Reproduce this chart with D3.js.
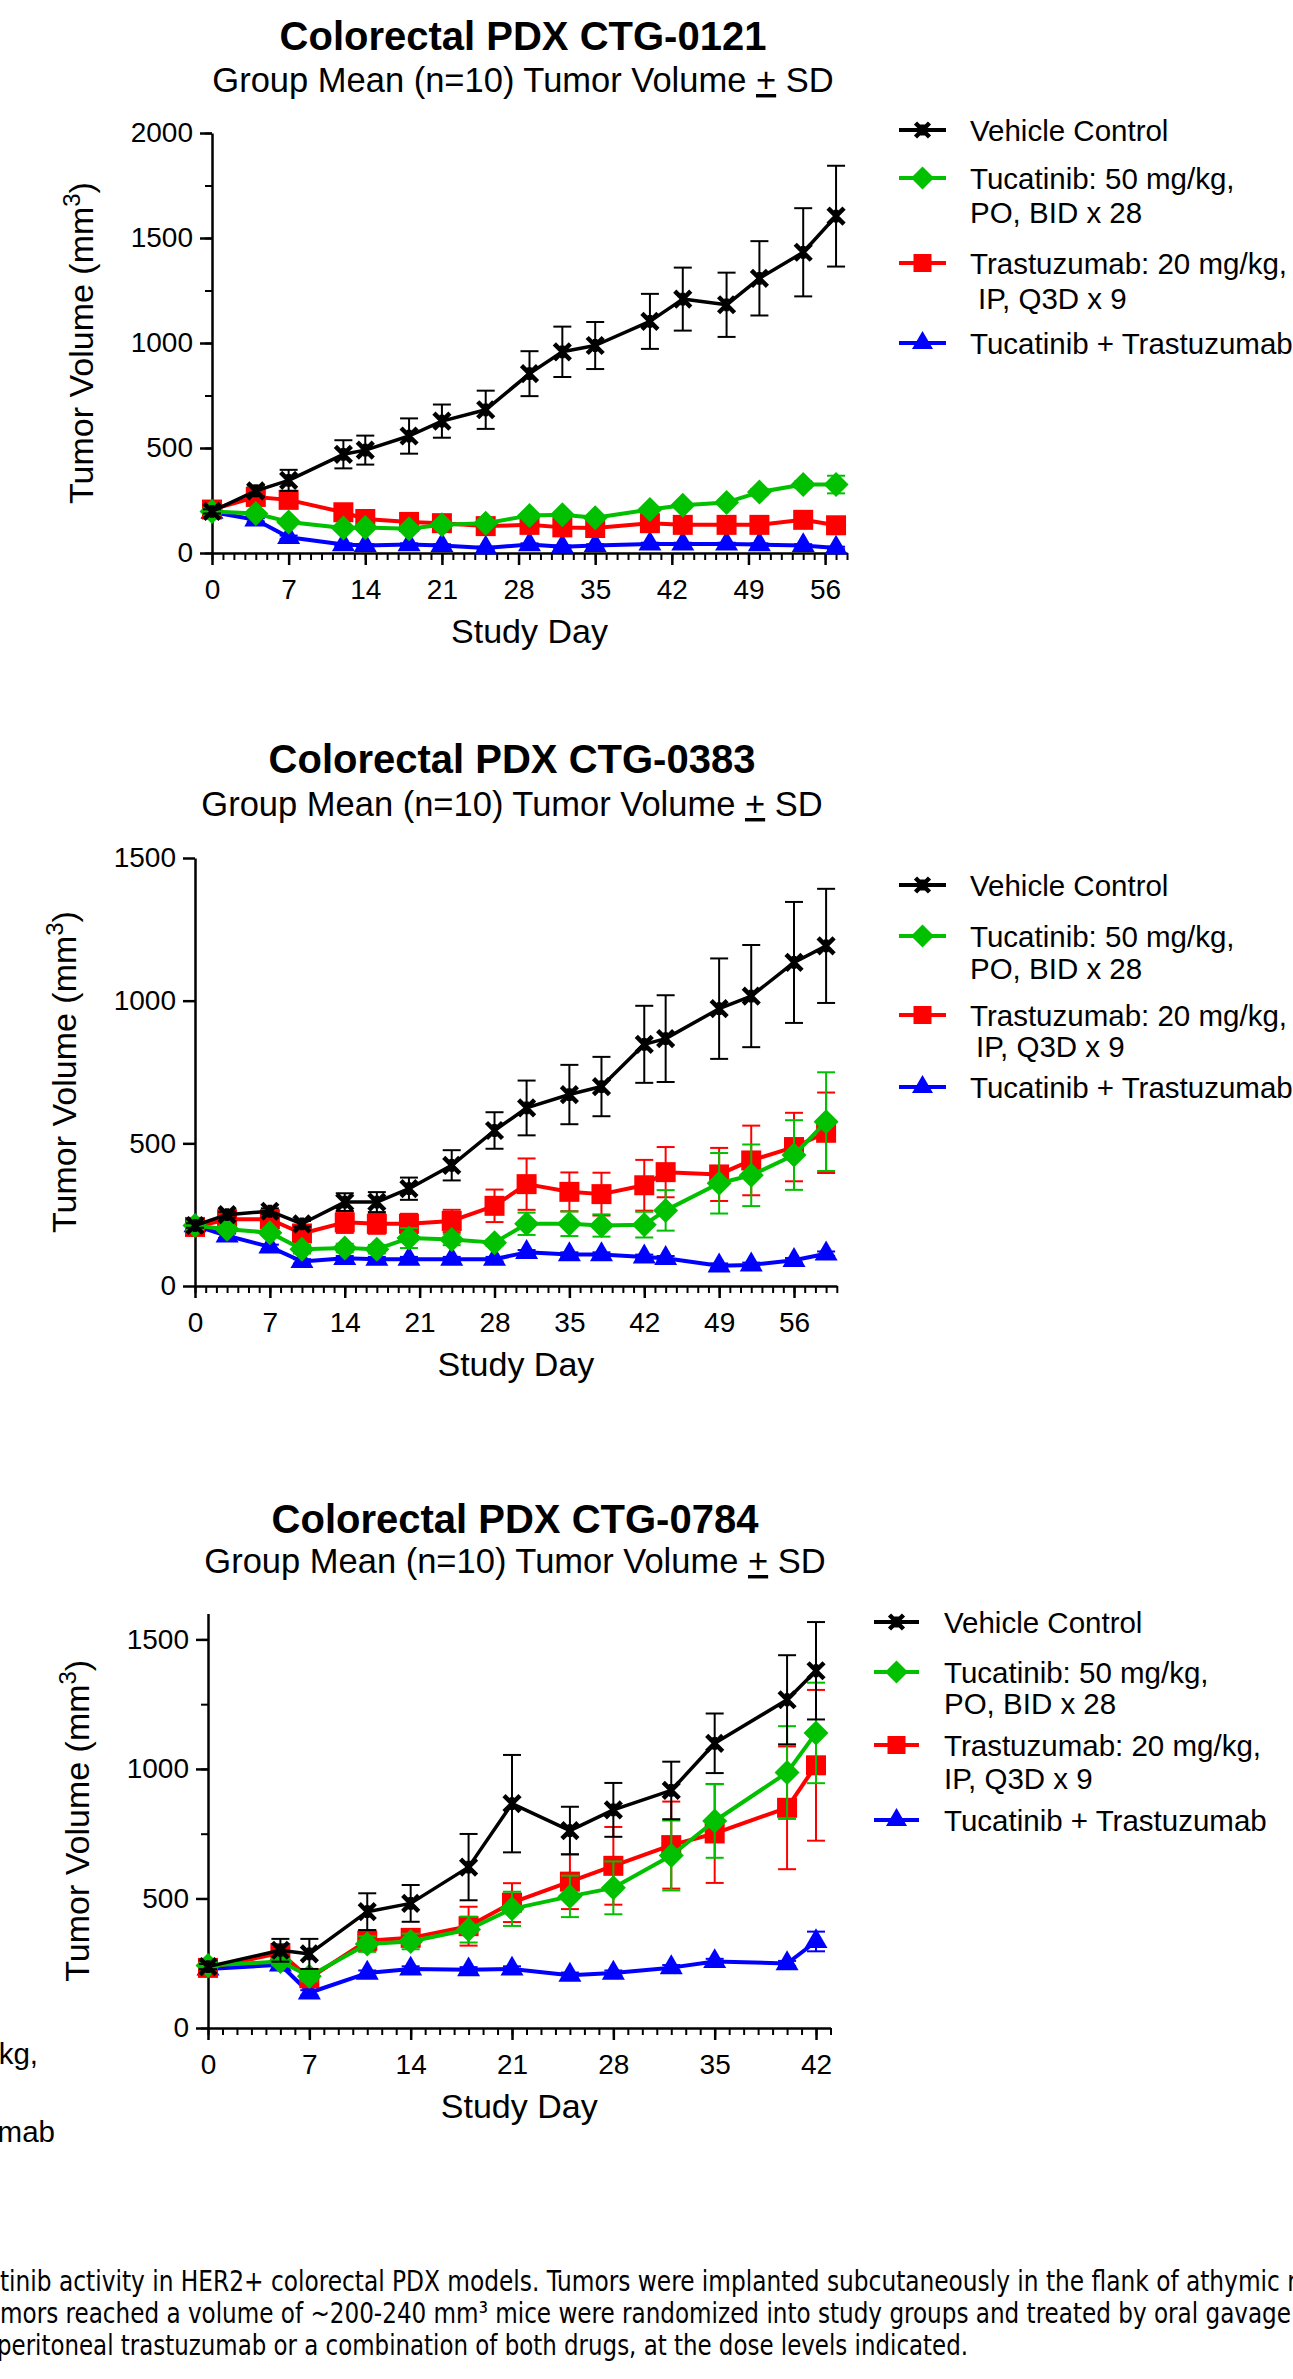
<!DOCTYPE html>
<html>
<head>
<meta charset="utf-8">
<script src="https://cdn.jsdelivr.net/npm/d3@7"></script>
<style>
  body { margin: 0; background: #fff; }
  svg { display: block; }
  text { font-family: "Liberation Sans", Arial, Helvetica, sans-serif; fill: #000; }
</style>
</head>
<body>
<svg id="fig" width="1293" height="2379"></svg>
<script>
// Tumor volume (mm3), group mean and SD.

var seriesNames = ['Vehicle Control', 'Tucatinib', 'Trastuzumab', 'Tucatinib + Trastuzumab'];
var legendLabels = [
    ['Vehicle Control'],
    ['Tucatinib: 50 mg/kg,', 'PO, BID x 28'],
    ['Trastuzumab: 20 mg/kg,', 'IP, Q3D x 9'],
    ['Tucatinib + Trastuzumab']
];

// CTG-0121
var days0121 = [0, 4, 7, 12, 14, 18, 21, 25, 29, 32, 35, 40, 43, 47, 50, 54, 57];
var vehicle0121 = [198, 296, 346, 470, 490, 557, 628, 682, 854, 958, 988, 1103, 1209, 1182, 1308, 1432, 1604];
var vehicle0121Sd = [10, 25, 50, 67, 69, 84, 79, 91, 107, 120, 112, 131, 150, 153, 177, 210, 240];
var tucatinib0121 = [198, 188, 148, 119, 122, 115, 134, 142, 178, 182, 168, 207, 227, 241, 290, 326, 326];
var tucatinib0121Sd = [10, 10, 10, 10, 10, 10, 10, 10, 10, 10, 10, 10, 10, 10, 15, 15, 42];
var trastuzumab0121 = [207, 267, 253, 194, 162, 148, 142, 128, 134, 122, 119, 142, 134, 134, 134, 158, 132];
var trastuzumab0121Sd = [10, 20, 15, 10, 10, 10, 10, 10, 10, 10, 10, 10, 10, 10, 10, 10, 10];
var combo0121 = [195, 158, 75, 40, 36, 40, 36, 24, 40, 30, 36, 43, 43, 43, 40, 36, 24];
var combo0121Sd = [8, 8, 8, 6, 6, 6, 6, 6, 6, 6, 6, 6, 6, 6, 6, 6, 6];

// CTG-0383
var days0383 = [0, 3, 7, 10, 14, 17, 20, 24, 28, 31, 35, 38, 42, 44, 49, 52, 56, 59];
var vehicle0383 = [212, 250, 262, 218, 294, 294, 341, 423, 545, 624, 671, 699, 847, 867, 972, 1016, 1134, 1192];
var vehicle0383Sd = [8, 10, 10, 10, 31, 35, 39, 53, 64, 96, 104, 104, 135, 152, 176, 179, 212, 200];
var tucatinib0383 = [212, 199, 187, 129, 133, 129, 168, 163, 152, 218, 218, 212, 215, 265, 360, 388, 459, 576];
var tucatinib0383Sd = [15, 10, 10, 15, 15, 15, 35, 20, 10, 39, 43, 39, 45, 71, 106, 108, 122, 173];
var trastuzumab0383 = [207, 234, 234, 184, 223, 218, 218, 228, 281, 357, 330, 322, 353, 399, 391, 440, 487, 537];
var trastuzumab0383Sd = [15, 15, 15, 15, 37, 35, 35, 39, 57, 90, 68, 75, 89, 88, 93, 122, 120, 141];
var combo0383 = [212, 176, 137, 86, 97, 94, 94, 94, 94, 118, 110, 110, 102, 97, 71, 74, 90, 113];
var combo0383Sd = [8, 8, 8, 8, 8, 8, 8, 8, 8, 8, 8, 8, 8, 8, 8, 8, 8, 8];

// CTG-0784
var days0784 = [0, 5, 7, 11, 14, 18, 21, 25, 28, 32, 35, 40, 42];
var vehicle0784 = [237, 300, 286, 449, 481, 621, 866, 762, 842, 917, 1099, 1267, 1379];
var vehicle0784Sd = [10, 44, 58, 71, 71, 128, 188, 92, 104, 111, 115, 172, 188];
var tucatinib0784 = [241, 257, 200, 324, 334, 380, 460, 508, 541, 666, 799, 986, 1139];
var tucatinib0784Sd = [10, 15, 20, 30, 30, 50, 66, 80, 102, 135, 142, 179, 194];
var trastuzumab0784 = [232, 289, 192, 337, 348, 393, 484, 565, 626, 706, 751, 850, 1014];
var trastuzumab0784Sd = [15, 20, 20, 40, 28, 75, 75, 106, 150, 168, 191, 237, 291];
var combo0784 = [228, 244, 136, 212, 228, 225, 228, 204, 212, 233, 257, 249, 334];
var combo0784Sd = [10, 10, 10, 10, 10, 10, 10, 10, 10, 10, 10, 10, 38];

// tick labels
var xTicks0121 = [0, 7, 14, 21, 28, 35, 42, 49, 56];
var yTicks0121 = [0, 500, 1000, 1500, 2000];
var xTicks0383 = [0, 7, 14, 21, 28, 35, 42, 49, 56];
var yTicks0383 = [0, 500, 1000, 1500];
var xTicks0784 = [0, 7, 14, 21, 28, 35, 42];
var yTicks0784 = [0, 500, 1000, 1500];

var colors = ['#000000', '#00c000', '#ff0000', '#0000ff'];
var symbols = ['star', 'diamond', 'square', 'triangle'];

var svg = d3.select('#fig');
svg.append('rect').attr('width', 1293).attr('height', 2379).attr('fill', '#fff');

function symbolPath(kind, s) {
    if (kind === 'square') return d3.symbol(d3.symbolSquare, s * s)();
    if (kind === 'diamond') return 'M0,' + (-s / 2) + 'L' + (s / 2) + ',0L0,' + (s / 2) + 'L' + (-s / 2) + ',0Z';
    if (kind === 'triangle') return d3.symbol(d3.symbolTriangle, Math.sqrt(3) / 4 * s * s)();
    var h = s / 2;
    return 'M' + (-h) + ',' + (-h) + 'L' + h + ',' + h + 'M' + h + ',' + (-h) + 'L' + (-h) + ',' + h +
        'M0,' + (-h * 0.8) + 'L0,' + (h * 0.8);
}

function drawMarker(g, kind, color, cx, cy, s) {
    var p = g.append('path')
        .attr('d', symbolPath(kind, s))
        .attr('transform', 'translate(' + cx + ',' + cy + ')');
    if (kind === 'star') {
        p.attr('fill', 'none').attr('stroke', color).attr('stroke-width', 4.5);
    } else {
        p.attr('fill', color);
    }
}

var markerSize = { star: 16, diamond: 25, square: 20, triangle: 23 };

function drawPanel(p) {
    var g = svg.append('g');
    var x = d3.scaleLinear().domain([0, p.xMax]).range([p.left, p.right]);
    var y = d3.scaleLinear().domain([0, p.yMax]).range([p.bottom, p.top]);

    // titles
    g.append('text').attr('x', p.titleX).attr('y', p.titleY)
        .attr('text-anchor', 'middle').attr('font-size', 40).attr('font-weight', 'bold')
        .text(p.title);
    var sub = g.append('text').attr('x', p.titleX).attr('y', p.subY)
        .attr('text-anchor', 'middle').attr('font-size', 34.5);
    sub.append('tspan').text('Group Mean (n=10) Tumor Volume ');
    sub.append('tspan').style('text-decoration', 'underline').text('+');
    sub.append('tspan').text(' SD');

    // x axis: minor day ticks then major ticks
    g.append('g').attr('transform', 'translate(0,' + p.bottom + ')')
        .call(d3.axisBottom(x).tickValues(d3.range(0, p.xMax + 1)).tickSize(7).tickFormat('').tickSizeOuter(0))
        .call(function(a) {
            a.select('.domain').remove();
            a.selectAll('line').attr('stroke-width', 2);
        });
    g.append('g').attr('transform', 'translate(0,' + p.bottom + ')')
        .call(d3.axisBottom(x).tickValues(p.xTicks).tickSize(12).tickPadding(14).tickSizeOuter(0))
        .call(function(a) {
            a.attr('font-family', null).attr('font-size', 28);
            a.select('.domain').attr('stroke-width', 2.5);
            a.selectAll('line').attr('stroke-width', 2.5);
            a.selectAll('text').attr('fill', '#000');
        });

    // y axis
    if (p.yMinor) {
        g.append('g').attr('transform', 'translate(' + p.left + ',0)')
            .call(d3.axisLeft(y).tickValues(d3.range(0, p.yMax + 1, p.yMinor)).tickSize(7).tickFormat('').tickSizeOuter(0))
            .call(function(a) {
                a.select('.domain').remove();
                a.selectAll('line').attr('stroke-width', 2);
            });
    }
    g.append('g').attr('transform', 'translate(' + p.left + ',0)')
        .call(d3.axisLeft(y).tickValues(p.yTicks).tickSize(12).tickPadding(7).tickSizeOuter(0).tickFormat(d3.format('d')))
        .call(function(a) {
            a.attr('font-family', null).attr('font-size', 28);
            a.select('.domain').attr('stroke-width', 2.5);
            a.selectAll('line').attr('stroke-width', 2.5);
            a.selectAll('text').attr('fill', '#000');
        });

    // axis titles
    g.append('text').attr('x', (p.left + p.right) / 2).attr('y', p.bottom + 90)
        .attr('text-anchor', 'middle').attr('font-size', 34).text('Study Day');
    var yl = g.append('text')
        .attr('transform', 'translate(' + (p.left - 119) + ',' + ((p.top + p.bottom) / 2) + ') rotate(-90)')
        .attr('text-anchor', 'middle').attr('font-size', 34);
    yl.append('tspan').text('Tumor Volume (mm');
    yl.append('tspan').attr('font-size', 24).attr('dy', -13).text('3');
    yl.append('tspan').attr('dy', 13).text(')');

    // series: combination first so vehicle ends on top
    var line = d3.line().x(function(d) { return x(d[0]); }).y(function(d) { return y(d[1]); });
    [3, 2, 1, 0].forEach(function(i) {
        var vals = p.series[i], sds = p.sds[i], col = colors[i];
        var pts = p.days.map(function(d, k) { return [d, vals[k], sds[k]]; });
        var sg = g.append('g');
        pts.forEach(function(d) {
            var cx = x(d[0]), lo = y(d[1] - d[2]), hi = y(d[1] + d[2]);
            sg.append('line').attr('x1', cx).attr('x2', cx).attr('y1', lo).attr('y2', hi)
                .attr('stroke', col).attr('stroke-width', 2);
            [lo, hi].forEach(function(yy) {
                sg.append('line').attr('x1', cx - 9).attr('x2', cx + 9).attr('y1', yy).attr('y2', yy)
                    .attr('stroke', col).attr('stroke-width', 2);
            });
        });
        sg.append('path').datum(pts).attr('d', line)
            .attr('fill', 'none').attr('stroke', col).attr('stroke-width', i === 0 ? 3.5 : 4)
            .attr('stroke-linejoin', 'round');
        pts.forEach(function(d) {
            drawMarker(sg, symbols[i], col, x(d[0]), y(d[1]), markerSize[symbols[i]]);
        });
    });

    // legend
    var lg = g.append('g');
    legendLabels.forEach(function(lines, i) {
        var ry = p.legendRows[i];
        lg.append('line').attr('x1', p.legendX0).attr('x2', p.legendX1).attr('y1', ry).attr('y2', ry)
            .attr('stroke', colors[i]).attr('stroke-width', 4);
        var ls = { star: 14, diamond: 23, square: 18, triangle: 21 }[symbols[i]];
        drawMarker(lg, symbols[i], colors[i], (p.legendX0 + p.legendX1) / 2, ry, ls);
        lines.forEach(function(t, k) {
            var ty = k === 0 ? ry : p.legendSecond[i];
            var tx = p.legendTextX + (k === 1 && i === 2 ? p.ipIndent : 0);
            lg.append('text').attr('x', tx).attr('y', ty + 10.5).attr('font-size', 29.5).text(t);
        });
    });
}

drawPanel({
    title: 'Colorectal PDX CTG-0121', titleX: 523, titleY: 50, subY: 92,
    left: 212, right: 847, xMax: 58, bottom: 553, top: 133, yMax: 2000, yMinor: 250,
    xTicks: xTicks0121, yTicks: yTicks0121, days: days0121,
    series: [vehicle0121, tucatinib0121, trastuzumab0121, combo0121],
    sds: [vehicle0121Sd, tucatinib0121Sd, trastuzumab0121Sd, combo0121Sd],
    legendX0: 899, legendX1: 946, legendTextX: 970, ipIndent: 8,
    legendRows: [130, 178, 263, 343], legendSecond: [null, 212, 298, null]
});

drawPanel({
    title: 'Colorectal PDX CTG-0383', titleX: 512, titleY: 773, subY: 816,
    left: 195, right: 836.8, xMax: 60, bottom: 1286, top: 858, yMax: 1500, yMinor: null,
    xTicks: xTicks0383, yTicks: yTicks0383, days: days0383,
    series: [vehicle0383, tucatinib0383, trastuzumab0383, combo0383],
    sds: [vehicle0383Sd, tucatinib0383Sd, trastuzumab0383Sd, combo0383Sd],
    legendX0: 899, legendX1: 946, legendTextX: 970, ipIndent: 6,
    legendRows: [885, 936, 1015, 1087], legendSecond: [null, 968, 1046, null]
});

drawPanel({
    title: 'Colorectal PDX CTG-0784', titleX: 515, titleY: 1533, subY: 1573,
    left: 208, right: 830.5, xMax: 43, bottom: 2028, top: 1613.5, yMax: 1600, yMinor: 250,
    xTicks: xTicks0784, yTicks: yTicks0784, days: days0784,
    series: [vehicle0784, tucatinib0784, trastuzumab0784, combo0784],
    sds: [vehicle0784Sd, tucatinib0784Sd, trastuzumab0784Sd, combo0784Sd],
    legendX0: 874, legendX1: 919, legendTextX: 944, ipIndent: 0,
    legendRows: [1622, 1672, 1745, 1820], legendSecond: [null, 1703, 1778, null]
});

// cropped remnants of a neighbouring legend at the left edge
svg.append('text').attr('x', 38).attr('y', 2064).attr('text-anchor', 'end').attr('font-size', 29.5).text('/kg,');
svg.append('text').attr('x', 55).attr('y', 2142).attr('text-anchor', 'end').attr('font-size', 29.5).text('umab');

// figure caption (cut at both page edges)
var captionLines = [
    { x: 0, y: 2291, len: 1302, t: 'tinib activity in HER2+ colorectal PDX models. Tumors were implanted subcutaneously in the flank of athymic n' },
    { x: 0, y: 2323, len: 1291, t: 'mors reached a volume of ~200-240 mm\u00b3 mice were randomized into study groups and treated by oral gavage' },
    { x: -3, y: 2355, len: 971, t: 'peritoneal trastuzumab or a combination of both drugs, at the dose levels indicated.' }
];
captionLines.forEach(function(c) {
    svg.append('text').attr('x', c.x).attr('y', c.y)
        .attr('font-size', 29)
        .style('font-family', '"Liberation Sans Narrow", "Arial Narrow", "DejaVu Sans Condensed", sans-serif')
        .attr('textLength', c.len).attr('lengthAdjust', 'spacingAndGlyphs')
        .text(c.t);
});
</script>
</body>
</html>
